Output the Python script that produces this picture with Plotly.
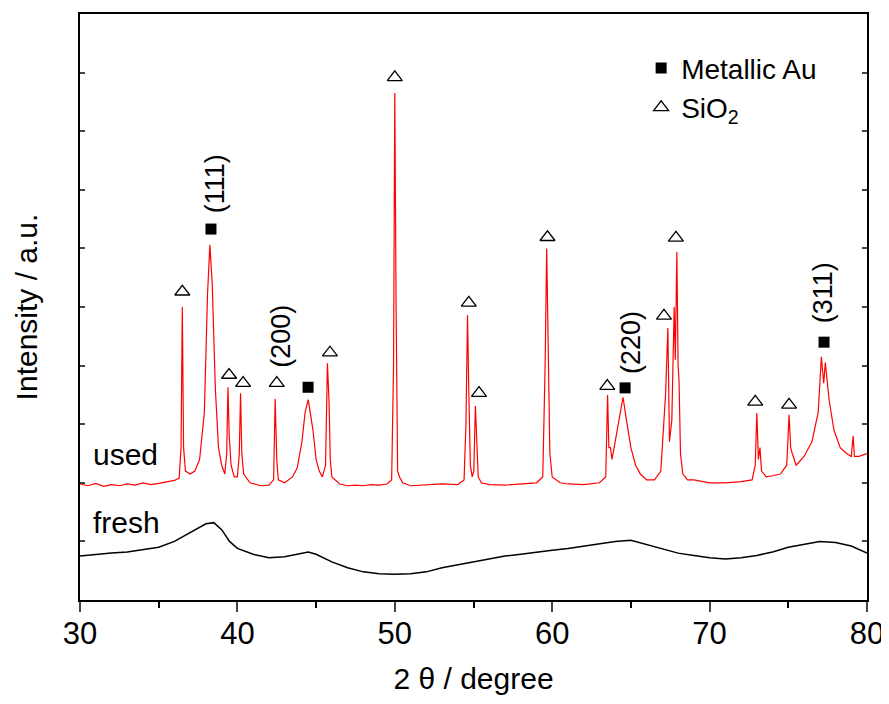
import plotly.graph_objects as go

# ---- used sample (red) : 2theta, intensity (a.u.) ----
used_2theta = [30.0, 30.5, 31.0, 31.5, 32.0, 32.5, 33.0, 33.5, 34.0, 34.5, 35.0, 35.5, 36.0, 36.3,
               36.42, 36.5, 36.58, 36.7, 37.0, 37.3, 37.6, 37.9, 38.1, 38.25, 38.4, 38.6, 38.8, 39.0,
               39.2, 39.32, 39.4, 39.48, 39.6, 39.8, 40.0, 40.12, 40.2, 40.28, 40.4, 40.8, 41.5, 42.0,
               42.3, 42.4, 42.5, 42.6, 43.0, 43.5, 43.8, 44.1, 44.3, 44.5, 44.6, 44.8, 45.0, 45.2,
               45.4, 45.6, 45.72, 45.82, 45.9, 46.0, 46.5, 47.0, 47.5, 48.0, 48.5, 49.0, 49.5, 49.8,
               49.92, 50.0, 50.08, 50.12, 50.18, 50.3, 50.5, 51.0, 52.0, 53.0, 54.0, 54.4, 54.52,
               54.62, 54.7, 54.8, 54.92, 55.02, 55.12, 55.2, 55.3, 55.5, 56.0, 57.0, 58.0, 59.0, 59.4,
               59.55, 59.65, 59.75, 59.85, 60.0, 60.5, 61.0, 62.0, 63.0, 63.4, 63.52, 63.6, 63.7,
               63.8, 64.0, 64.2, 64.5, 64.7, 65.0, 65.3, 65.6, 66.0, 66.5, 66.9, 67.2, 67.35, 67.45,
               67.6, 67.75, 67.82, 67.92, 68.0, 68.06, 68.15, 68.3, 68.6, 69.0, 70.0, 71.0, 72.0,
               72.7, 72.9, 73.0, 73.1, 73.2, 73.3, 73.6, 74.0, 74.5, 74.9, 75.05, 75.15, 75.25, 75.5,
               76.0, 76.5, 76.9, 77.1, 77.25, 77.35, 77.6, 77.9, 78.3, 78.7, 79.0, 79.12, 79.2,
               79.5, 80.0]
used_int = [1.98, 1.95, 1.99, 1.94, 1.97, 1.95, 1.98, 1.96, 2.00, 1.97, 1.99, 2.02, 2.04, 2.08,
            2.6, 5.0, 2.6, 2.2, 2.15, 2.2, 2.4, 3.2, 5.2, 6.06, 5.4, 3.6, 2.6, 2.3,
            2.15, 2.5, 3.63, 2.8, 2.3, 2.1, 2.1, 2.5, 3.53, 2.5, 2.15, 2.0, 1.95, 1.96,
            2.05, 3.43, 2.4, 2.05, 2.0, 2.1, 2.25, 2.7, 3.2, 3.42, 3.25, 2.9, 2.4, 2.2,
            2.1, 2.3, 4.04, 3.4, 2.4, 2.1, 1.98, 1.95, 1.96, 1.95, 1.97, 1.96, 1.98, 2.05,
            4.0, 8.65, 5.07, 3.0, 2.2, 2.1, 2.0, 1.95, 1.96, 1.98, 1.97, 2.05, 3.0,
            4.86, 3.58, 2.3, 2.1, 2.2, 3.31, 2.7, 2.1, 2.0, 1.97, 1.96, 1.98, 2.0, 2.1,
            4.0, 6.0, 4.27, 2.5, 2.1, 2.0, 1.98, 1.97, 2.0, 2.1, 3.5, 2.6, 2.6,
            2.4, 2.7, 3.0, 3.46, 3.1, 2.6, 2.3, 2.15, 2.05, 2.05, 2.2, 3.5, 4.64, 2.7,
            3.07, 5.0, 4.1, 5.94, 4.0, 3.72, 2.5, 2.15, 2.05, 2.05, 2.0, 2.0, 2.02,
            2.05, 2.3, 3.19, 2.4, 2.6, 2.2, 2.1, 2.12, 2.15, 2.3, 3.16, 2.6, 2.5, 2.3,
            2.45, 2.7, 3.2, 4.15, 3.7, 4.05, 3.4, 2.9, 2.6, 2.5, 2.45, 2.8, 2.45,
            2.45, 2.5]

# ---- fresh sample (black) ----
fresh_2theta = [30, 31, 32, 33, 34, 35, 36, 37, 37.5, 38, 38.5, 39, 39.5, 40, 41, 42, 43, 44, 44.5,
                45, 46, 47, 48, 49, 50, 51, 52, 53, 54, 55, 56, 57, 58, 59, 60, 61, 62, 63, 64, 65,
                66, 67, 68, 69, 70, 71, 72, 73, 74, 75, 76, 77, 78, 79, 80]
fresh_int = [0.75, 0.78, 0.8, 0.82, 0.86, 0.9, 1.0, 1.15, 1.22, 1.3, 1.32, 1.2, 1.0, 0.88, 0.78,
             0.72, 0.74, 0.8, 0.82, 0.78, 0.65, 0.55, 0.48, 0.45, 0.44, 0.45, 0.48, 0.55, 0.6,
             0.65, 0.7, 0.75, 0.78, 0.82, 0.85, 0.88, 0.92, 0.96, 1.0, 1.02, 0.95, 0.88, 0.8,
             0.76, 0.72, 0.7, 0.72, 0.76, 0.82, 0.9, 0.95, 1.0, 0.98, 0.92, 0.8]

# ---- phase markers ----
au_x = [38.32, 44.49, 64.63, 77.27]
au_y = [6.33, 3.63, 3.62, 4.40]
sio2_x = [36.5, 39.47, 40.36, 42.5, 45.88, 50.0, 54.7, 55.35, 59.7, 63.5, 67.1, 67.86, 72.9, 75.05]
sio2_y = [5.26, 3.84, 3.70, 3.70, 4.22, 8.92, 5.07, 3.53, 6.19, 3.65, 4.85, 6.18, 3.38, 3.33]

hkl_labels = ["(111)", "(200)", "(220)", "(311)"]
hkl_x = [38.6, 42.8, 65.0, 77.2]
hkl_y = [7.1, 4.5, 4.4, 5.25]

FONT = "Liberation Sans, Arial, sans-serif"

fig = go.Figure()
fig.add_trace(go.Scatter(x=used_2theta, y=used_int, mode="lines",
                         line=dict(color="#ff0000", width=1.2), showlegend=False))
fig.add_trace(go.Scatter(x=fresh_2theta, y=fresh_int, mode="lines",
                         line=dict(color="black", width=1.5), showlegend=False))
fig.add_trace(go.Scatter(x=au_x, y=au_y, mode="markers", name="Metallic Au",
                         marker=dict(symbol="square", size=11, color="black")))
fig.add_trace(go.Scatter(x=sio2_x, y=sio2_y, mode="markers", name="SiO<sub>2</sub>",
                         marker=dict(symbol="triangle-up-open", size=13, color="black",
                                     line=dict(width=1.3, color="black"))))

for t, x, y in zip(hkl_labels, hkl_x, hkl_y):
    fig.add_annotation(x=x, y=y, text=t, textangle=-90, showarrow=False,
                       font=dict(family=FONT, size=27, color="black"))

fig.add_annotation(x=30.7, y=2.48, text="used", showarrow=False, xanchor="left",
                   font=dict(family=FONT, size=30, color="black"))
fig.add_annotation(x=30.7, y=1.32, text="fresh", showarrow=False, xanchor="left",
                   font=dict(family=FONT, size=30, color="black"))

# page body has an 8px margin, so the figure is sized to fit the 889x704 window
fig.update_layout(
    width=881, height=696,
    margin=dict(l=72, r=22, t=6, b=104),
    paper_bgcolor="white", plot_bgcolor="white",
    font=dict(family=FONT, color="black"),
    legend=dict(x=0.713, y=0.95, xanchor="left", yanchor="top",
                font=dict(family=FONT, size=28, color="black"),
                bgcolor="rgba(0,0,0,0)", itemwidth=30),
    xaxis=dict(range=[30, 80], dtick=10, tick0=30, ticks="outside", ticklen=10, tickwidth=2,
               showline=True, linewidth=2, linecolor="black", mirror=True, showgrid=False,
               zeroline=False, automargin=False, ticklabelstandoff=-5,
               tickfont=dict(family=FONT, size=31, color="black"),
               minor=dict(dtick=5, ticks="outside", ticklen=6, tickwidth=2, tickcolor="black"),
               title=dict(text="2 θ / degree", font=dict(family=FONT, size=30, color="black"),
                          standoff=18)),
    yaxis=dict(range=[0, 10], dtick=1, ticks="inside", ticklen=5, tickwidth=2,
               showticklabels=False, showline=True, linewidth=2, linecolor="black",
               mirror="allticks", showgrid=False, zeroline=False, automargin=False,
               title=dict(text="Intensity / a.u.", font=dict(family=FONT, size=30, color="black"),
                          standoff=32)),
)

fig.write_html("out.html")
